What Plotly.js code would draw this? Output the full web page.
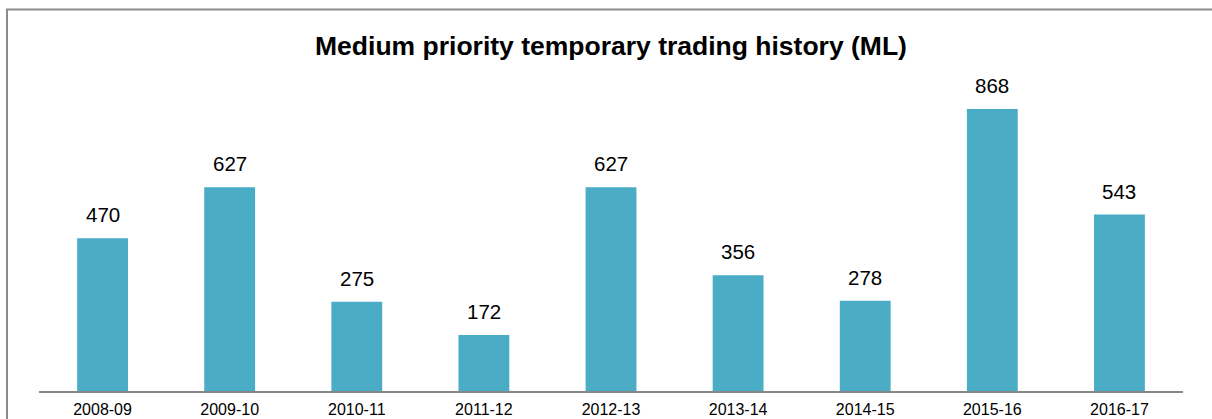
<!DOCTYPE html>
<html>
<head>
<meta charset="utf-8">
<script src="https://cdn.plot.ly/plotly-3.0.1.min.js"></script>
<style>
  html, body { margin: 0; padding: 0; background: #fff; }
  #chart { width: 1212px; height: 419px; }
</style>
</head>
<body>
<div id="chart"></div>
<script>
const categories = ["2008-09", "2009-10", "2010-11", "2011-12", "2012-13", "2013-14", "2014-15", "2015-16", "2016-17"];
const values = [470, 627, 275, 172, 627, 356, 278, 868, 543];
const chartTitle = "Medium priority temporary trading history (ML)";

const font = "Liberation Sans, Arial, sans-serif";

const trace = {
  type: "bar",
  x: categories,
  y: values,
  marker: { color: "#4bacc6", line: { width: 0 } },
  hoverinfo: "x+y"
};

const annotations = categories.map((c, i) => ({
  x: c, y: values[i], xref: "x", yref: "y",
  text: String(values[i]),
  showarrow: false,
  yanchor: "middle",
  yshift: 23.5,
  font: { family: font, size: 20.5, color: "#000" }
}));

const layout = {
  width: 1212,
  height: 419,
  margin: { l: 39, r: 29, t: 66, b: 28, pad: 0 },
  paper_bgcolor: "#fff",
  plot_bgcolor: "#fff",
  showlegend: false,
  bargap: 0.6,
  title: {
    text: "<b>" + chartTitle + "</b>",
    font: { family: font, size: 26.5, color: "#000" },
    xref: "paper", x: 0.5, xanchor: "center",
    yref: "container", y: 1 - 46 / 419, yanchor: "middle"
  },
  xaxis: {
    type: "category",
    showline: true, linecolor: "#878787", linewidth: 2,
    showgrid: false, zeroline: false,
    ticks: "",
    ticklabelstandoff: 3,
    tickfont: { family: font, size: 16, color: "#000" },
    fixedrange: true
  },
  yaxis: {
    range: [0, 1000],
    visible: false, showgrid: false, zeroline: false,
    fixedrange: true
  },
  annotations: annotations,
  shapes: [{
    type: "rect", xref: "paper", yref: "paper",
    x0: (7 - 39) / 1144, x1: 1.2,
    y0: -0.3, y1: 1 + (66 - 9.5) / 325,
    line: { color: "#8c8c8c", width: 2 },
    fillcolor: "rgba(0,0,0,0)",
    layer: "below"
  }]
};

Plotly.newPlot("chart", [trace], layout, { displayModeBar: false, staticPlot: true });
</script>
</body>
</html>
